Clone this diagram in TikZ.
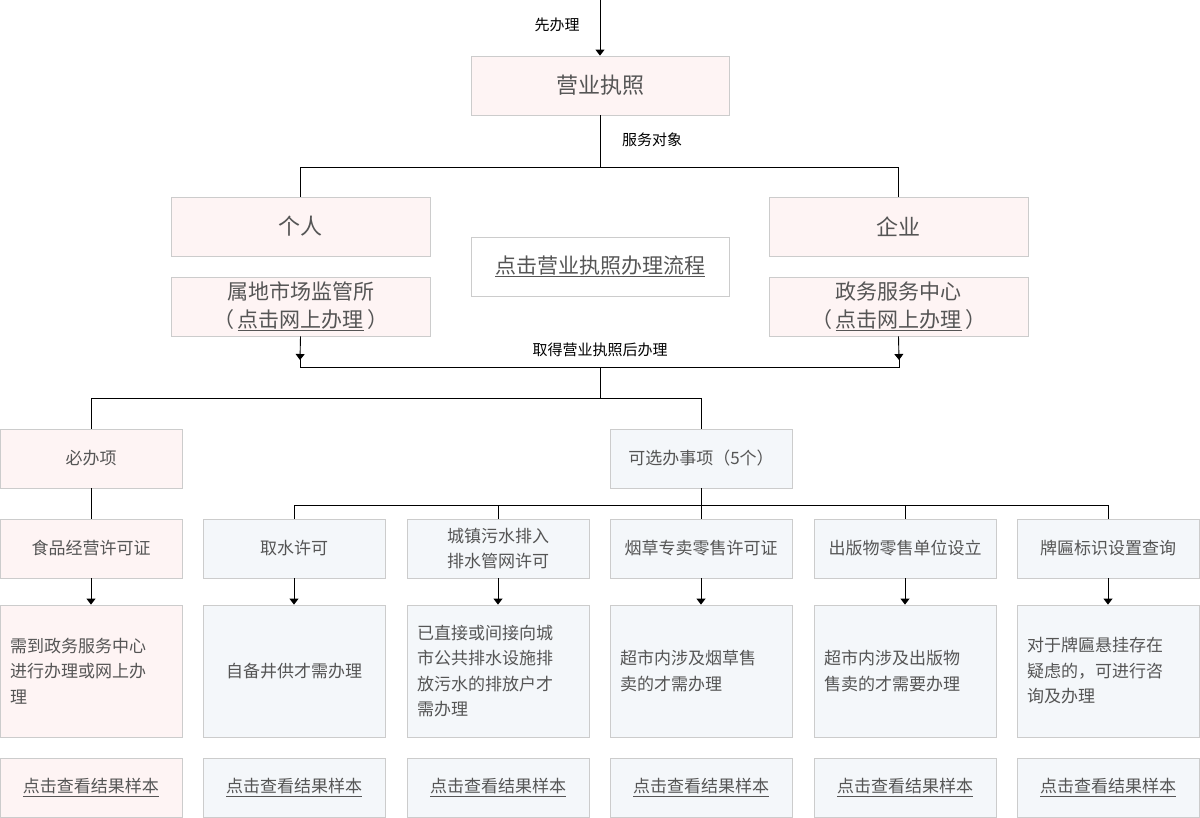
\documentclass[tikz,border=0pt]{standalone}
\usepackage{fontspec}
\setmainfont{Noto Sans CJK SC}
\usetikzlibrary{arrows.meta}
\definecolor{pk}{HTML}{FEF4F4}
\definecolor{bl}{HTML}{F4F7FA}
\definecolor{bd}{HTML}{CCCCCC}
\definecolor{tx}{HTML}{555555}
\begin{document}
\begin{tikzpicture}[x=1pt,y=-1pt,
 box/.style={draw=bd,line width=0.8pt,text=tx,align=center,font=\fontsize{17}{25}\selectfont},
 pbox/.style={box,fill=pk},
 bbox/.style={box,fill=bl},
 big/.style={font=\fontsize{22}{28}\selectfont},
 mid/.style={font=\fontsize{21}{28}\selectfont},
 desc/.style={draw=bd,line width=0.8pt,text=tx,align=left,text width=162pt,inner xsep=10pt,minimum width=182pt,minimum height=132pt,font=\fontsize{17}{25.5}\selectfont},
 lab/.style={font=\fontsize{15}{18}\selectfont,text=black},
 ln/.style={line width=0.9pt},
 arr/.style={ln,-{Triangle[width=9pt,length=6pt]}}]
\useasboundingbox (0,0) rectangle (1200,818);
\newcommand{\bx}[6]{\node[#1,minimum width=#4pt,minimum height=#5pt,inner sep=0pt] (#2) at (#3) {#6};}
\bx{pbox,big}{yy}{600,85.5}{258}{59}{营业执照}
\coordinate (top) at (600,0);
\draw[arr] (top) -- (yy.north);
\node[lab] (l1) at (557,25) {先办理};
\bx{pbox,big}{gr}{300.5,226.5}{259}{59}{个人}
\bx{pbox,big}{qy}{898.5,226.5}{259}{59}{企业}
\bx{box,mid}{lc}{600,266.5}{258}{59}{\underline{点击营业执照办理流程}}
\bx{pbox,mid}{sd}{300.5,306.5}{259}{59}{属地市场监管所\\（\,\underline{点击网上办理}\,）}
\bx{pbox,mid}{zw}{898.5,306.5}{259}{59}{政务服务中心\\（\,\underline{点击网上办理}\,）}
\node[lab] (l2) at (652,140) {服务对象};
\draw[ln] (yy.south) -- (600,167) -| (gr.north);
\draw[ln] (600,167) -| (qy.north);
\coordinate (m1) at (600,367);
\draw[arr] (sd.south) -- (300,360);
\draw[arr] (zw.south) -- (899,360);
\draw[ln] (300,358) -- (300,367) -- (899,367) -- (899,358);
\node[lab] (l3) at (600,350) {取得营业执照后办理};
\bx{pbox}{bb}{91,458.5}{182}{59}{必办项}
\bx{bbox}{kx}{701,458.5}{182}{59}{可选办事项（5个）}
\draw[ln] (m1) -- (600,398) -| (bb.north);
\draw[ln] (600,398) -| (kx.north);
\bx{pbox}{c1}{91,548.5}{182}{59}{食品经营许可证}
\bx{bbox}{c2}{294,548.5}{182}{59}{取水许可}
\bx{bbox}{c3}{498,548.5}{182}{59}{城镇污水排入\\排水管网许可}
\bx{bbox}{c4}{701,548.5}{182}{59}{烟草专卖零售许可证}
\bx{bbox}{c5}{905,548.5}{182}{59}{出版物零售单位设立}
\bx{bbox}{c6}{1108,548.5}{182}{59}{牌匾标识设置查询}
\draw[ln] (bb.south) -- (c1.north);
\draw[ln] (kx.south) -- (701,505);
\foreach \c in {c2,c3,c4,c5,c6} \draw[ln] (701,505) -| (\c.north);
\node[desc,fill=pk] (d1) at (91,671) {需到政务服务中心\\进行办理或网上办\\理};
\node[desc,fill=bl,align=center] (d2) at (294,671) {自备井供才需办理};
\node[desc,fill=bl] (d3) at (498,671) {已直接或间接向城\\市公共排水设施排\\放污水的排放户才\\需办理};
\node[desc,fill=bl] (d4) at (701,671) {超市内涉及烟草售\\卖的才需办理};
\node[desc,fill=bl] (d5) at (905,671) {超市内涉及出版物\\售卖的才需要办理};
\node[desc,fill=bl] (d6) at (1108,671) {对于牌匾悬挂存在\\疑虑的，可进行咨\\询及办理};
\foreach \i in {1,...,6} \draw[arr] (c\i.south) -- (d\i.north);
\bx{pbox}{r1}{91,787.5}{182}{59}{\underline{点击查看结果样本}}
\bx{bbox}{r2}{294,787.5}{182}{59}{\underline{点击查看结果样本}}
\bx{bbox}{r3}{498,787.5}{182}{59}{\underline{点击查看结果样本}}
\bx{bbox}{r4}{701,787.5}{182}{59}{\underline{点击查看结果样本}}
\bx{bbox}{r5}{905,787.5}{182}{59}{\underline{点击查看结果样本}}
\bx{bbox}{r6}{1108,787.5}{182}{59}{\underline{点击查看结果样本}}
\end{tikzpicture}
\end{document}
